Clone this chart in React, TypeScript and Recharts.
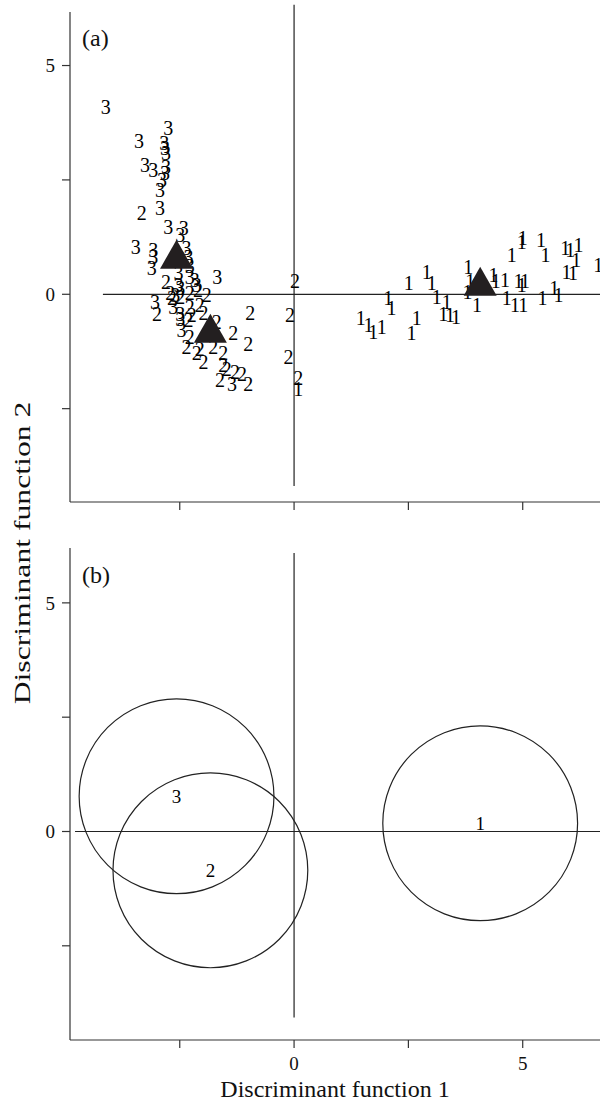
import { ScatterChart, Scatter, XAxis, YAxis, ReferenceLine, ReferenceDot } from "recharts";

// group scores: [function 1, function 2]
const group1Points = [
  [0.09, -2.06], [1.46, -0.52], [1.63, -0.67], [1.73, -0.82], [1.92, -0.71], [2.06, -0.09],
  [2.13, -0.31], [2.51, 0.24], [2.57, -0.85], [2.68, -0.52], [2.9, 0.49], [3.01, 0.24],
  [3.12, -0.05], [3.34, -0.16], [3.26, -0.42], [3.41, -0.45], [3.54, -0.49], [3.81, 0.6],
  [3.85, 0.28], [3.79, 0.06], [4.0, -0.23], [4.36, 0.42], [4.41, 0.28], [4.61, 0.31],
  [4.65, -0.09], [4.83, -0.23], [4.76, 0.86], [4.98, 1.15], [5.0, 1.22], [4.91, 0.28],
  [4.98, 0.2], [5.05, 0.28], [5.01, -0.23], [5.4, 1.19], [5.5, 0.86], [5.43, -0.09],
  [5.69, 0.13], [5.78, -0.02], [5.93, 1.01], [6.04, 0.97], [6.22, 1.08], [6.17, 0.75],
  [5.96, 0.49], [6.1, 0.46], [6.65, 0.65],
];

const group2Points = [
  [-3.33, 1.77], [-2.8, 0.26], [-1.91, -0.02], [-3.0, -0.42], [-2.67, -0.09], [-2.49, -0.05],
  [-2.28, 0.02], [-2.28, -0.27], [-2.06, -0.23], [-1.98, -0.4], [-2.24, -0.45], [-2.31, -0.56],
  [-1.69, -0.6], [-0.96, -0.4], [-0.09, -0.45], [0.02, 0.28], [-1.33, -0.85], [-1.0, -1.09],
  [-2.28, -0.93], [-2.35, -1.15], [-2.06, -1.2], [-1.77, -1.15], [-1.55, -1.29], [-2.13, -1.29],
  [-1.98, -1.49], [-1.55, -1.55], [-1.47, -1.64], [-1.29, -1.69], [-1.62, -1.87], [-1.14, -1.74],
  [-1.0, -1.95], [-0.12, -1.36], [0.09, -1.84], [-2.71, 0.02], [-2.1, 0.1],
];

const group3Points = [
  [-4.12, 4.1], [-2.75, 3.63], [-3.39, 3.34], [-2.84, 3.3], [-2.82, 3.19], [-2.8, 3.08],
  [-3.26, 2.83], [-3.08, 2.72], [-2.8, 2.79], [-2.82, 2.65], [-2.89, 2.5], [-2.93, 2.28],
  [-2.93, 1.88], [-2.75, 1.48], [-2.41, 1.44], [-3.46, 1.04], [-3.08, 0.97], [-3.08, 0.82],
  [-3.11, 0.57], [-2.49, 1.3], [-2.35, 1.01], [-2.31, 0.82], [-2.28, 0.62], [-2.53, 0.46],
  [-2.28, 0.38], [-2.17, 0.31], [-2.13, 0.2], [-1.68, 0.38], [-2.49, 0.13], [-2.53, 0.2],
  [-3.04, -0.16], [-2.64, -0.27], [-2.49, -0.42], [-2.49, -0.55], [-2.46, -0.78], [-1.36, -1.95],
  [-2.6, -0.02],
];

// group centroids, labels and the radius of the circles in panel (b)
const centroidLabels = ["1", "2", "3"];
const centroidX = [4.07, -1.83, -2.57];
const centroidY = [0.18, -0.85, 0.77];
const circleRadius = 2.13;

const xTicks = [-2.5, 0, 2.5, 5];
const yTicks = [-2.5, 0, 2.5, 5];
const labelledTicks = [0, 5];

const toRows = (pts: number[][]) => pts.map(([x, y]) => ({ x, y }));
const centroids = centroidLabels.map((label, i) => ({ x: centroidX[i], y: centroidY[i], label }));

const FONT = '"Liberation Serif", "Times New Roman", serif';
const INK = "#222";
const X_DOMAIN = [-4.9, 6.69];
const PLOT_W = 530;
const PX_PER_UNIT = PLOT_W / (X_DOMAIN[1] - X_DOMAIN[0]);

const fmtTick = (v: number) => (labelledTicks.includes(v) ? String(v) : "");

const digit = (ch: string) => (props: any) => (
  <text x={props.cx} y={props.cy} dy="0.35em" textAnchor="middle" fontFamily={FONT} fontSize={20} fill="#000">
    {ch}
  </text>
);

const labelShape = (props: any) => (
  <text x={props.cx} y={props.cy} dy="0.35em" textAnchor="middle" fontFamily={FONT} fontSize={19} fill="#000">
    {props.payload.label}
  </text>
);

const triangle = (props: any) => {
  const w = 33;
  const h = 29;
  const { cx, cy } = props;
  const pts = `${cx},${cy - (2 * h) / 3} ${cx + w / 2},${cy + h / 3} ${cx - w / 2},${cy + h / 3}`;
  return <polygon points={pts} fill="#231f20" />;
};

const axisProps = {
  axisLine: { stroke: "#333", strokeWidth: 1.2 },
  tickLine: { stroke: "#333", strokeWidth: 1.2 },
  tickSize: 8,
  tick: { fill: "#111", fontSize: 19, fontFamily: FONT },
};

const PanelA = () => (
  <ScatterChart width={600} height={540} margin={{ top: 12, right: 0, bottom: 0, left: 0 }}>
    <XAxis type="number" dataKey="x" domain={X_DOMAIN} ticks={xTicks} tickFormatter={() => ""} height={38} allowDataOverflow {...axisProps} />
    <YAxis type="number" dataKey="y" domain={[-4.54, 6.17]} ticks={yTicks} tickFormatter={fmtTick} width={70} tickMargin={7} allowDataOverflow {...axisProps} />
    <ReferenceLine segment={[{ x: -4.18, y: 0 }, { x: 6.69, y: 0 }]} stroke={INK} strokeWidth={1.2} ifOverflow="visible" />
    <ReferenceLine segment={[{ x: 0, y: -4.19 }, { x: 0, y: 6.33 }]} stroke={INK} strokeWidth={1.2} ifOverflow="visible" />
    <Scatter data={toRows(group3Points)} shape={digit("3")} isAnimationActive={false} />
    <Scatter data={toRows(group2Points)} shape={digit("2")} isAnimationActive={false} />
    <Scatter data={toRows(group1Points)} shape={digit("1")} isAnimationActive={false} />
    <Scatter data={centroids} shape={triangle} isAnimationActive={false} />
  </ScatterChart>
);

const PanelB = () => (
  <ScatterChart width={600} height={570} margin={{ top: 12, right: 0, bottom: 0, left: 0 }}>
    <XAxis type="number" dataKey="x" domain={X_DOMAIN} ticks={xTicks} tickFormatter={fmtTick} height={66} tickMargin={9} allowDataOverflow {...axisProps} />
    <YAxis type="number" dataKey="y" domain={[-4.56, 6.2]} ticks={yTicks} tickFormatter={fmtTick} width={70} tickMargin={7} allowDataOverflow {...axisProps} />
    <ReferenceLine segment={[{ x: -4.79, y: 0 }, { x: 6.69, y: 0 }]} stroke={INK} strokeWidth={1.2} ifOverflow="visible" />
    <ReferenceLine segment={[{ x: 0, y: -4.07 }, { x: 0, y: 6.09 }]} stroke={INK} strokeWidth={1.2} ifOverflow="visible" />
    {centroids.map((c) => (
      <ReferenceDot key={c.label} x={c.x} y={c.y} r={circleRadius * PX_PER_UNIT} fill="none" stroke={INK} strokeWidth={1.2} ifOverflow="visible" />
    ))}
    <Scatter data={centroids} shape={labelShape} isAnimationActive={false} />
  </ScatterChart>
);

export default function App() {
  return (
    <div style={{ position: "absolute", left: 0, top: 0, width: 600, height: 1106, fontFamily: FONT, color: "#111", background: "#fff" }}>
      <div style={{ position: "absolute", left: 0, top: 0 }}>
        <PanelA />
      </div>
      <div style={{ position: "absolute", left: 0, top: 536 }}>
        <PanelB />
      </div>
      <div style={{ position: "absolute", left: 82, top: 24, fontSize: 24, lineHeight: "28px" }}>(a)</div>
      <div style={{ position: "absolute", left: 82, top: 561, fontSize: 24, lineHeight: "28px" }}>(b)</div>
      <div style={{ position: "absolute", left: 135, top: 1075, width: 400, textAlign: "center", fontSize: 24, lineHeight: "28px" }}>
        Discriminant function 1
      </div>
      <div
        style={{
          position: "absolute",
          left: 22 - 200,
          top: 553 - 15,
          width: 400,
          height: 30,
          lineHeight: "30px",
          textAlign: "center",
          fontSize: 24,
          whiteSpace: "nowrap",
          transform: "rotate(-90deg) scaleX(1.32)",
          transformOrigin: "center",
        }}
      >
        Discriminant function 2
      </div>
    </div>
  );
}
